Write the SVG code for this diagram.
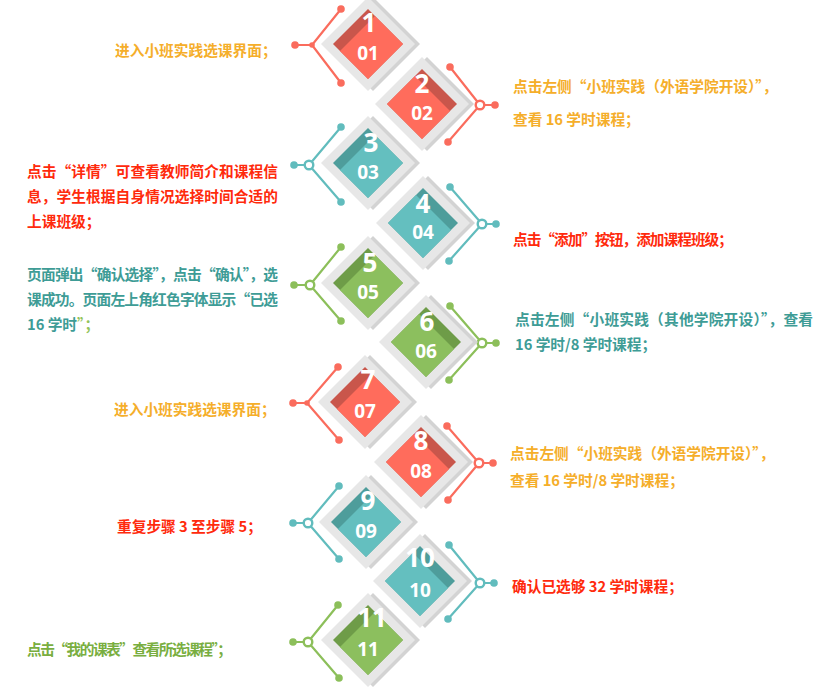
<svg xmlns="http://www.w3.org/2000/svg" width="839" height="690" viewBox="0 0 839 690">
<style>
.fr-s{fill:#D3D3D3}
.fr{fill:#E7E7E7}
.c-d{fill:#C9564B}.c-l{fill:#FF6C5C}
.t-d{fill:#4E9D9B}.t-l{fill:#64BFBF}
.g-d{fill:#6E9C48}.g-l{fill:#8CBF5E}
.big{font-family:"Open Sans","DejaVu Sans",sans-serif;font-weight:700;font-size:26px;fill:#FFFFFF;text-anchor:middle}
.sm{font-family:"Open Sans","DejaVu Sans",sans-serif;font-weight:700;font-size:19px;fill:#FFFFFF;text-anchor:middle}
.lbl{font-family:"Noto Sans CJK SC","Liberation Sans",sans-serif;font-weight:700;font-size:14.7px}
.or{fill:#F5AE2A}.rd{fill:#FF2A0C}.tl{fill:#3E9C96}.gn{fill:#79AE40}.lg{fill:#93C45A}
.cc{stroke:#FA6C5D}.ct{stroke:#61BCBD}.cg{stroke:#8CBF5A}
.ln{fill:none;stroke-width:2.2;stroke-linecap:round}
.dc{fill:#FA6C5D}.dt{fill:#61BCBD}.dg{fill:#8CBF5A}
.ring{fill:#FFFFFF;stroke-width:2.4}
</style>
<defs>
<g id="frame"><polygon class="fr-s" points="5,-47 52,0 5,47 -42,0"/><polygon class="fr" points="0,-47 47,0 0,47 -47,0"/></g>
</defs>
<rect width="839" height="690" fill="#FFFFFF"/>

<g id="connectors">
  <g id="con1"><path class="ln cc" d="M341,9 L312,45 L341,83 M312,45 L295,45"/><circle class="dc" cx="341" cy="9" r="3.8"/><circle class="dc" cx="341" cy="83" r="3.8"/><circle class="dc" cx="295" cy="45" r="3.8"/><circle class="dc" cx="312" cy="45" r="2.8"/></g>
  <g id="con2"><path class="ln cc" d="M450,67 L480,105 L448,142 M480,105 L495,105"/><circle class="dc" cx="450" cy="67" r="3.8"/><circle class="dc" cx="448" cy="142" r="3.8"/><circle class="dc" cx="495" cy="105" r="3.8"/><circle class="ring cc" cx="480" cy="105" r="4.3"/></g>
  <g id="con3"><path class="ln ct" d="M341,127 L309,165 L341,202 M309,165 L294,165"/><circle class="dt" cx="341" cy="127" r="3.8"/><circle class="dt" cx="341" cy="202" r="3.8"/><circle class="dt" cx="294" cy="165" r="3.8"/><circle class="ring ct" cx="309" cy="165" r="4.3"/></g>
  <g id="con4"><path class="ln ct" d="M450,187 L482,224 L449,261 M482,224 L496,224"/><circle class="dt" cx="450" cy="187" r="3.8"/><circle class="dt" cx="449" cy="261" r="3.8"/><circle class="dt" cx="496" cy="224" r="3.8"/><circle class="ring ct" cx="482" cy="224" r="4.3"/></g>
  <g id="con5"><path class="ln cg" d="M341,247 L310,285 L341,321 M310,285 L294,285"/><circle class="dg" cx="341" cy="247" r="3.8"/><circle class="dg" cx="341" cy="321" r="3.8"/><circle class="dg" cx="294" cy="285" r="3.8"/><circle class="ring cg" cx="310" cy="285" r="4.3"/></g>
  <g id="con6"><path class="ln cg" d="M450,306 L482,343 L449,380 M482,343 L496,343"/><circle class="dg" cx="450" cy="306" r="3.8"/><circle class="dg" cx="449" cy="380" r="3.8"/><circle class="dg" cx="496" cy="343" r="3.8"/><circle class="ring cg" cx="482" cy="343" r="4.3"/></g>
  <g id="con7"><path class="ln cc" d="M338,367 L307,403 L339,440 M307,403 L293,403"/><circle class="dc" cx="338" cy="367" r="3.8"/><circle class="dc" cx="339" cy="440" r="3.8"/><circle class="dc" cx="293" cy="403" r="3.8"/><circle class="dc" cx="307" cy="403" r="2.8"/></g>
  <g id="con8"><path class="ln cc" d="M447,426 L479,463 L448,500 M479,463 L493,463"/><circle class="dc" cx="447" cy="426" r="3.8"/><circle class="dc" cx="448" cy="500" r="3.8"/><circle class="dc" cx="493" cy="463" r="3.8"/><circle class="ring cc" cx="479" cy="463" r="4.3"/></g>
  <g id="con9"><path class="ln ct" d="M339,486 L308,523 L339,559 M308,523 L293,523"/><circle class="dt" cx="339" cy="486" r="3.8"/><circle class="dt" cx="339" cy="559" r="3.8"/><circle class="dt" cx="293" cy="523" r="3.8"/><circle class="ring ct" cx="308" cy="523" r="4.3"/></g>
  <g id="con10"><path class="ln ct" d="M449,545 L480,583 L448,619 M480,583 L494,583"/><circle class="dt" cx="449" cy="545" r="3.8"/><circle class="dt" cx="448" cy="619" r="3.8"/><circle class="dt" cx="494" cy="583" r="3.8"/><circle class="ring ct" cx="480" cy="583" r="4.3"/></g>
  <g id="con11"><path class="ln cg" d="M338,605 L308,642 L339,678 M308,642 L293,642"/><circle class="dg" cx="338" cy="605" r="3.8"/><circle class="dg" cx="339" cy="678" r="3.8"/><circle class="dg" cx="293" cy="642" r="3.8"/><circle class="ring cg" cx="308" cy="642" r="4.3"/></g>
</g>

<g id="step1">
  <g transform="translate(368,44)"><use href="#frame"/><polygon class="c-d" points="0,-35 35,0 0,35 -35,0"/><polygon class="c-l" points="7,-28 35,0 0,35 -28,7"/>
  <text class="big" x="1" y="-12">1</text><text class="sm" x="0" y="16">01</text></g>
  <text class="lbl or" x="115" y="56">进入小班实践选课界面；</text>
</g>
<g id="step2">
  <g transform="translate(422,104)"><use href="#frame"/><polygon class="c-d" points="0,-35 35,0 0,35 -35,0"/><polygon class="c-l" points="-7,-28 28,7 0,35 -35,0"/>
  <text class="big" x="0" y="-11">2</text><text class="sm" x="0" y="16">02</text></g>
  <text class="lbl or" x="513" y="92">点击左侧“小班实践（外语学院开设）”，</text>
  <text class="lbl or" x="513" y="125">查看 16 学时课程；</text>
</g>
<g id="step3">
  <g transform="translate(368,163)"><use href="#frame"/><polygon class="t-d" points="0,-35 35,0 0,35 -35,0"/><polygon class="t-l" points="7,-28 35,0 0,35 -28,7"/>
  <text class="big" x="3" y="-11">3</text><text class="sm" x="0" y="16">03</text></g>
  <text class="lbl rd" x="27" y="177" textLength="251" lengthAdjust="spacing">点击“详情”可查看教师简介和课程信</text>
  <text class="lbl rd" x="27" y="202" textLength="251" lengthAdjust="spacing">息，学生根据自身情况选择时间合适的</text>
  <text class="lbl rd" x="27" y="227">上课班级；</text>
</g>
<g id="step4">
  <g transform="translate(423,223)"><use href="#frame"/><polygon class="t-d" points="0,-35 35,0 0,35 -35,0"/><polygon class="t-l" points="-7,-28 28,7 0,35 -35,0"/>
  <text class="big" x="0" y="-10">4</text><text class="sm" x="0" y="16">04</text></g>
  <text class="lbl rd" x="513" y="245" textLength="220" lengthAdjust="spacing">点击“添加”按钮，添加课程班级；</text>
</g>
<g id="step5">
  <g transform="translate(368,283)"><use href="#frame"/><polygon class="g-d" points="0,-35 35,0 0,35 -35,0"/><polygon class="g-l" points="7,-28 35,0 0,35 -28,7"/>
  <text class="big" x="2" y="-11">5</text><text class="sm" x="0" y="16">05</text></g>
  <text class="lbl tl" x="27" y="280" textLength="251" lengthAdjust="spacing">页面弹出“确认选择”，点击“确认”，选</text>
  <text class="lbl tl" x="27" y="305" textLength="251" lengthAdjust="spacing">课成功。页面左上角红色字体显示“已选</text>
  <text class="lbl tl" x="27" y="330">16 学时<tspan class="lg">”；</tspan></text>
</g>
<g id="step6">
  <g transform="translate(426,342)"><use href="#frame"/><polygon class="g-d" points="0,-35 35,0 0,35 -35,0"/><polygon class="g-l" points="-7,-28 28,7 0,35 -35,0"/>
  <text class="big" x="1" y="-11">6</text><text class="sm" x="0" y="16">06</text></g>
  <text class="lbl tl" x="515" y="325" textLength="298" lengthAdjust="spacing">点击左侧“小班实践（其他学院开设）”，查看</text>
  <text class="lbl tl" x="515" y="350">16 学时/8 学时课程；</text>
</g>
<g id="step7">
  <g transform="translate(365,402)"><use href="#frame"/><polygon class="c-d" points="0,-35 35,0 0,35 -35,0"/><polygon class="c-l" points="7,-28 35,0 0,35 -28,7"/>
  <text class="big" x="3" y="-13">7</text><text class="sm" x="0" y="16">07</text></g>
  <text class="lbl or" x="114" y="415">进入小班实践选课界面；</text>
</g>
<g id="step8">
  <g transform="translate(421,462)"><use href="#frame"/><polygon class="c-d" points="0,-35 35,0 0,35 -35,0"/><polygon class="c-l" points="-7,-28 28,7 0,35 -35,0"/>
  <text class="big" x="0" y="-12">8</text><text class="sm" x="0" y="16">08</text></g>
  <text class="lbl or" x="510" y="459">点击左侧“小班实践（外语学院开设）”，</text>
  <text class="lbl or" x="510" y="486">查看 16 学时/8 学时课程；</text>
</g>
<g id="step9">
  <g transform="translate(366,522)"><use href="#frame"/><polygon class="t-d" points="0,-35 35,0 0,35 -35,0"/><polygon class="t-l" points="7,-28 35,0 0,35 -28,7"/>
  <text class="big" x="2" y="-12">9</text><text class="sm" x="0" y="16">09</text></g>
  <text class="lbl rd" x="117" y="532">重复步骤 3 至步骤 5；</text>
</g>
<g id="step10">
  <g transform="translate(420,581)"><use href="#frame"/><polygon class="t-d" points="0,-35 35,0 0,35 -35,0"/><polygon class="t-l" points="-7,-28 28,7 0,35 -35,0"/>
  <text class="big" x="0" y="-14">10</text><text class="sm" x="0" y="16">10</text></g>
  <text class="lbl rd" x="512" y="592">确认已选够 32 学时课程；</text>
</g>
<g id="step11">
  <g transform="translate(368,640)"><use href="#frame"/><polygon class="g-d" points="0,-35 35,0 0,35 -35,0"/><polygon class="g-l" points="7,-28 35,0 0,35 -28,7"/>
  <text class="big" x="4" y="-13">11</text><text class="sm" x="0" y="16">11</text></g>
  <text class="lbl gn" x="27" y="655" textLength="205" lengthAdjust="spacing">点击“我的课表”查看所选课程”；</text>
</g>
</svg>
